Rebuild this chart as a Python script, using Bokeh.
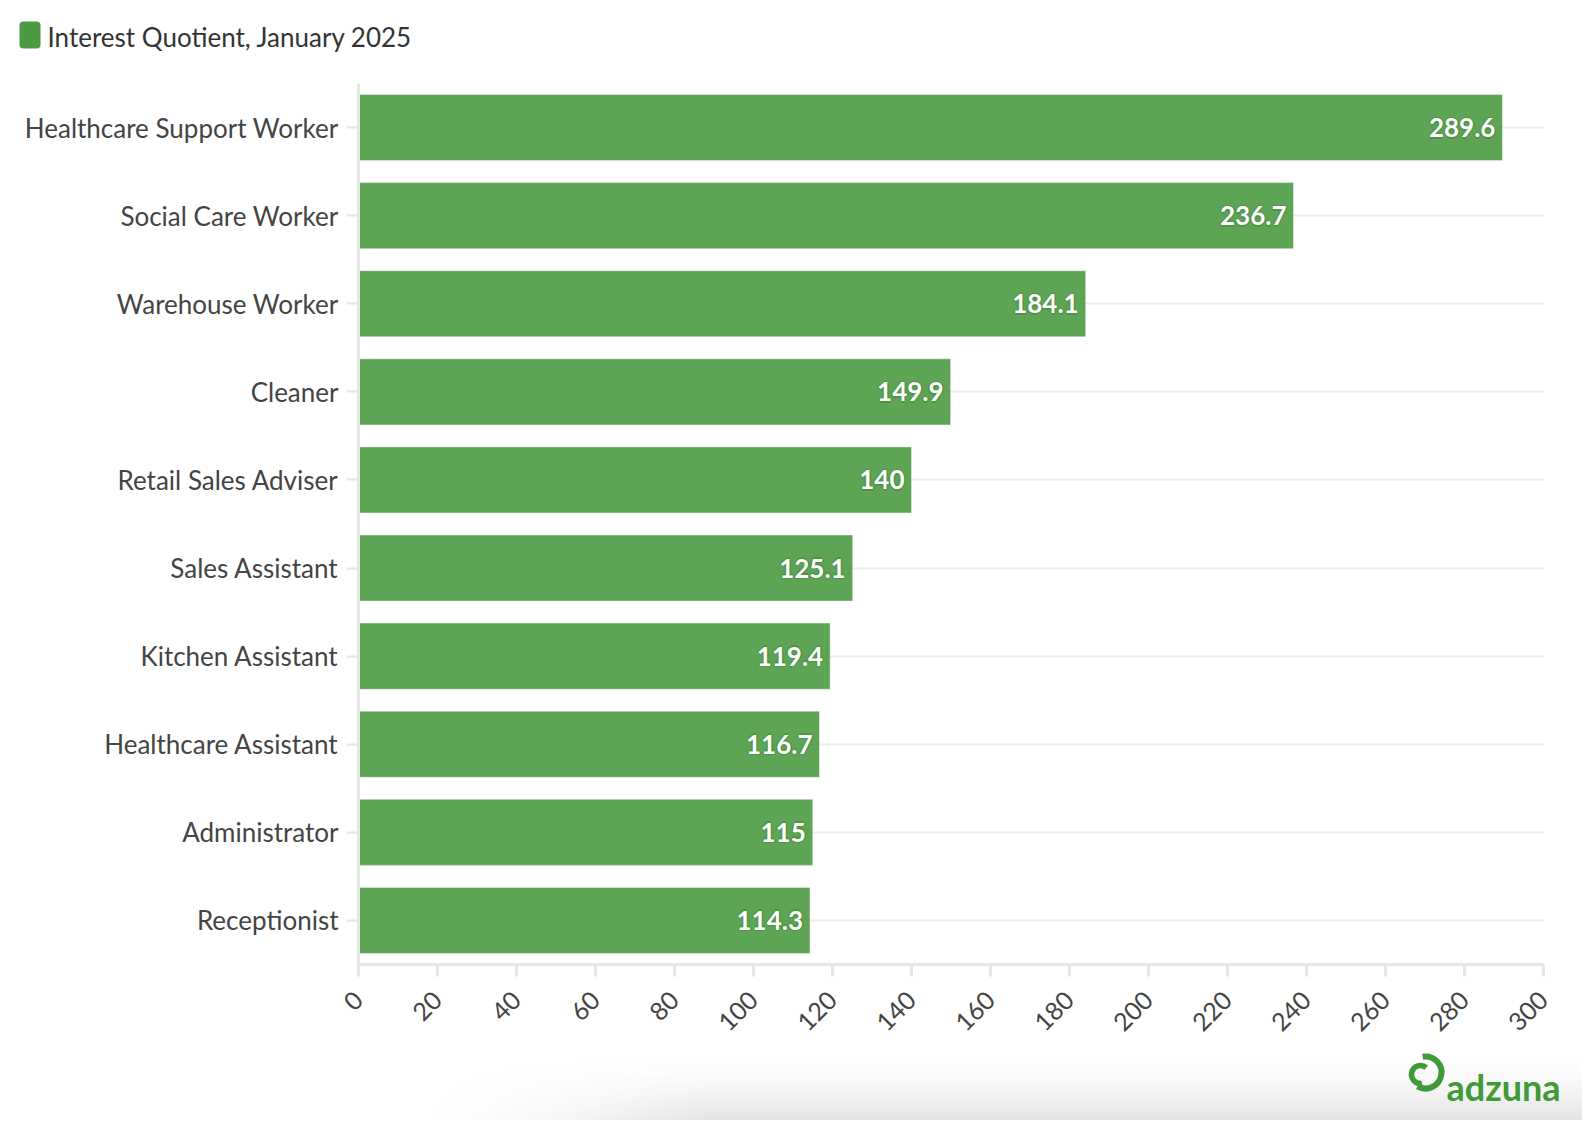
import math
import numpy as np
from bokeh.plotting import figure
from bokeh.layouts import column
from bokeh.models import ColumnDataSource, FactorRange, Range1d, FixedTicker
from bokeh.core.properties import value
from bokeh.embed import file_html
from bokeh.resources import INLINE

# data
jobs = ["Healthcare Support Worker", "Social Care Worker", "Warehouse Worker",
        "Cleaner", "Retail Sales Adviser", "Sales Assistant", "Kitchen Assistant",
        "Healthcare Assistant", "Administrator", "Receptionist"]
iq_values = [289.6, 236.7, 184.1, 149.9, 140, 125.1, 119.4, 116.7, 115, 114.3]
x_ticks = list(range(0, 301, 20))
series_name = "Interest Quotient, January 2025"

GREEN = "#4c9a42"
LOGO_GREEN = "#3f9a38"
FONT = "Lato"
W = 1582


def bare(fig):
    fig.axis.visible = False
    fig.grid.visible = False
    fig.outline_line_color = None
    fig.min_border = 0
    fig.frame_align = False
    return fig


# ---- header with the legend entry
HEAD_H = 83
head = bare(figure(width=W, height=HEAD_H, x_range=Range1d(0, W),
                   y_range=Range1d(0, HEAD_H),
                   output_backend="svg", toolbar_location=None))
head.quad(left=[19], right=[40], top=[HEAD_H - 21], bottom=[HEAD_H - 48],
          fill_color=GREEN, line_color=None, border_radius=4)
head.text(x=[47], y=[HEAD_H - 36], text=[series_name], text_font=value(FONT),
          text_font_size="26px", text_color="#333333",
          text_align="left", text_baseline="middle")

# ---- main bar chart
source = ColumnDataSource(data=dict(
    job=jobs,
    value=iq_values,
    label=[f"{v:g}" for v in iq_values],
))

p = figure(width=W, height=966,
           y_range=FactorRange(factors=list(reversed(jobs))),
           x_range=Range1d(0, 300),
           output_backend="svg", toolbar_location=None,
           min_border_left=358, min_border_top=0,
           min_border_right=W - 1543, min_border_bottom=85)
p.outline_line_color = None
p.frame_align = False

p.hbar(y="job", right="value", left=0, height=0.75, source=source,
       fill_color=GREEN, fill_alpha=0.9,
       line_color="white", line_alpha=0.4, line_width=1)

# soft darker halo behind the white value labels
for dx, dy in [(-1.5, 0), (1.5, 0), (0, -1.5), (0, 1.5)]:
    p.text(x="value", y="job", text="label", source=source,
           x_offset=-7 + dx, y_offset=dy, text_align="right", text_baseline="middle",
           text_color="#4e9446", text_font_size="26px", text_font_style="bold",
           text_font=value(FONT))
p.text(x="value", y="job", text="label", source=source,
       x_offset=-7, text_align="right", text_baseline="middle",
       text_color="white", text_font_size="26px", text_font_style="bold",
       text_font=value(FONT))

# grid
p.xgrid.visible = False
p.ygrid.grid_line_color = "#ebebeb"
p.ygrid.grid_line_width = 2
p.ygrid.level = "underlay"

# y axis
p.yaxis.axis_line_color = "#e6e6e6"
p.yaxis.axis_line_width = 3
p.yaxis.major_tick_line_color = "#e6e6e6"
p.yaxis.major_tick_line_width = 2
p.yaxis.major_tick_out = 12
p.yaxis.major_tick_in = 0
p.yaxis.major_label_standoff = 8
p.yaxis.major_label_text_font = FONT
p.yaxis.major_label_text_font_size = "26px"
p.yaxis.major_label_text_color = "#444444"

# x axis
p.xaxis.ticker = FixedTicker(ticks=x_ticks)
p.xaxis.axis_line_color = "#e6e6e6"
p.xaxis.axis_line_width = 3
p.xaxis.major_tick_line_color = "#e6e6e6"
p.xaxis.major_tick_line_width = 3
p.xaxis.major_tick_out = 12
p.xaxis.major_tick_in = 0
p.xaxis.minor_tick_line_color = None
p.xaxis.major_label_orientation = math.pi / 4
p.xaxis.major_label_standoff = 19
p.xaxis.major_label_text_font = FONT
p.xaxis.major_label_text_font_size = "25px"
p.xaxis.major_label_text_color = "#444444"

# ---- footer with the grey fade and the adzuna logo
FOOT_H = 71
foot = bare(figure(width=W, height=FOOT_H, x_range=Range1d(0, W),
                   y_range=Range1d(0, FOOT_H),
                   output_backend="svg", toolbar_location=None))

gw, gh = 300, 40
gx = np.linspace(0, 1, gw)
gy = np.linspace(1, 0, gh)[:, None]          # row 0 is the bottom of the image
fade_x = np.clip((gx - 0.02) / 0.25, 0, 1) ** 1.5
alpha = (gy ** 1.6) * fade_x * 0.14
img = np.zeros((gh, gw), dtype=np.uint32)
view = img.view(dtype=np.uint8).reshape((gh, gw, 4))
view[:, :, 0] = 60
view[:, :, 1] = 60
view[:, :, 2] = 60
view[:, :, 3] = (alpha * 255).astype(np.uint8)
foot.image_rgba(image=[img], x=380, y=0, dw=W - 380, dh=FOOT_H)

cx, cy = 1425, FOOT_H - 23
foot.arc(x=[cx], y=[cy], radius=16, start_angle=math.radians(100),
         end_angle=math.radians(240), direction="clock",
         line_color=LOGO_GREEN, line_width=6)
foot.arc(x=[cx - 5], y=[cy - 2], radius=9, start_angle=math.radians(50),
         end_angle=math.radians(-80), direction="anticlock",
         line_color=LOGO_GREEN, line_width=5.5)
foot.text(x=[1446], y=[FOOT_H - 37], text=["adzuna"], text_font=value(FONT),
          text_font_style="bold", text_font_size="36px", text_color=LOGO_GREEN,
          text_align="left", text_baseline="alphabetic")

layout = column(head, p, foot, spacing=0)
open("out.html", "w").write(file_html(layout, INLINE))
